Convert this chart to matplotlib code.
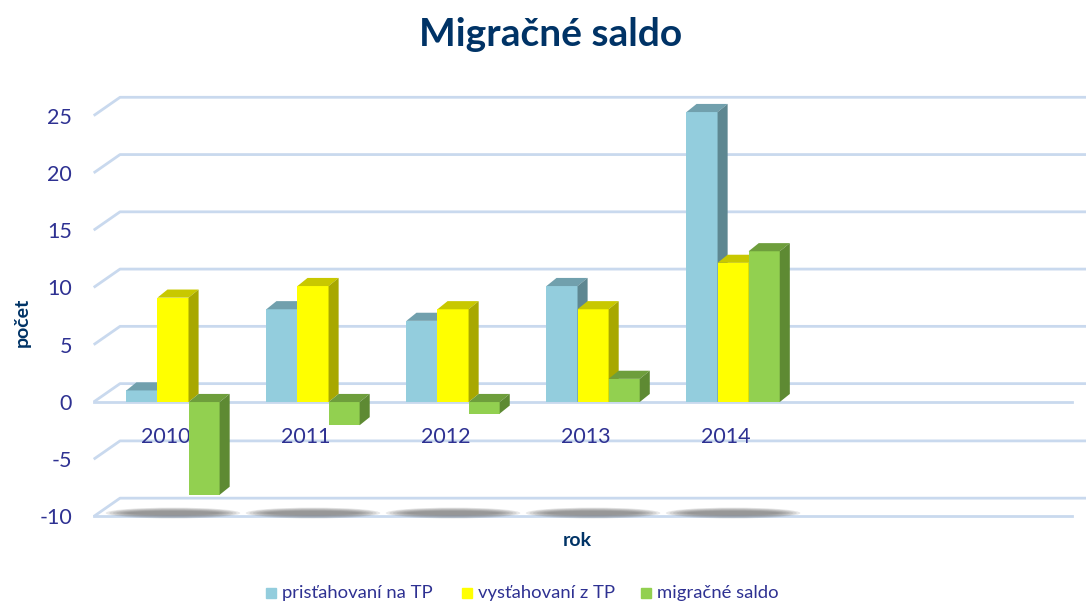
import matplotlib.pyplot as plt
from matplotlib.patches import Polygon, Ellipse, Rectangle

years = ['2010', '2011', '2012', '2013', '2014']
prist = [1, 8, 7, 10, 25]
vyst = [9, 10, 8, 8, 12]
saldo = [-8, -2, -1, 2, 13]

series = [
    ('prisťahovaní na TP', prist, '#93CDDD', '#71A0AD', '#5E8791'),
    ('vysťahovaní z TP', vyst, '#FFFF00', '#C8C800', '#A8A800'),
    ('migračné saldo', saldo, '#92D050', '#6E9E3C', '#5E8A33'),
]
yticks = [-10, -5, 0, 5, 10, 15, 20, 25]

txt = '#2E3192'
navy = '#003366'
grid_c = '#C9D9EE'

plt.rcParams['font.family'] = ['Lato', 'DejaVu Sans']

fig = plt.figure(figsize=(10.86, 6.01), dpi=100)
rect = [93 / 1086, 71 / 601, 993 / 1086, 435 / 601]
ax = fig.add_axes(rect)
x0, x1 = -0.571, 6.52
ax.set_xlim(x0, x1)
ax.set_ylim(-11.18, 26.8)
for s in ax.spines.values():
    s.set_visible(False)
ax.set_xticks([])
ax.set_yticks(yticks)
ax.set_yticklabels([str(t) for t in yticks], color=txt, fontsize=15.5)
ax.tick_params(axis='y', length=0, pad=15)

# bars sit a little behind the front plane -> own axes with slightly larger scale
bx = fig.add_axes(rect)
bx.set_xlim(x0, x1)
bx.set_ylim(-11.03, 26.47)
bx.axis('off')

# wall depth and bar depth (in data units)
wdx, wdy = 0.193, 1.6
bdx, bdy = 0.072, 0.7

# gridlines: side wall diagonal + back wall horizontal
for t in yticks:
    ax.plot([x0 + 0.005, x0 + wdx, x1], [t, t + wdy, t + wdy],
            color=grid_c, lw=2, zorder=1, solid_capstyle='butt')
for t in (0, -10):
    ax.plot([x0 + 0.005, x1 - 0.1], [t, t], color=grid_c, lw=2, zorder=1)

# floor shadows (soft, stacked ellipses)
for i in range(len(years)):
    for k in range(7):
        ax.add_patch(Ellipse((i, -9.7), 0.96 - k * 0.05, 0.95 - k * 0.1,
                             color='#707070', alpha=0.16, lw=0, zorder=1.5))

# category labels
for i, y in enumerate(years):
    ax.text(i - 0.05, -3.05, y, ha='center', va='center', color=txt,
            fontsize=15.5, zorder=2)

w = 0.222
z = 3
for i in range(len(years)):
    for j, (name, vals, fc, tc, sc) in enumerate(series):
        v = vals[i]
        xl = i + (j - 1.5) * w
        xr = xl + w
        lo, hi = min(0, v), max(0, v)
        bx.bar(xl, v, width=w, align='edge', color=fc, zorder=z)
        bx.add_patch(Polygon([(xl, hi), (xl + bdx, hi + bdy), (xr + bdx, hi + bdy), (xr, hi)],
                             closed=True, color=tc, lw=0, zorder=z))
        bx.add_patch(Polygon([(xr, lo), (xr + bdx, lo + bdy), (xr + bdx, hi + bdy), (xr, hi)],
                             closed=True, color=sc, lw=0, zorder=z))
        z += 0.1

fig.text(551 / 1086, 1 - 46 / 601, 'Migračné saldo', ha='center', va='baseline',
         fontsize=28, fontweight='bold', color=navy)
fig.text(22 / 1086, 1 - 322 / 601, 'počet', ha='center', va='center', rotation=90,
         fontsize=14, fontweight='bold', color=navy)
fig.text(577 / 1086, 1 - 541 / 601, 'rok', ha='center', va='center',
         fontsize=14, fontweight='bold', color=navy)

# legend, placed by hand
leg_x = [266, 462, 641]
for (name, _, fc, _, _), lx in zip(series, leg_x):
    fig.patches.append(Rectangle((lx / 1086, 1 - 598 / 601), 10 / 1086, 10 / 601,
                                 transform=fig.transFigure, color=fc))
    fig.text((lx + 16) / 1086, 1 - 593 / 601, name, ha='left', va='center',
             fontsize=13.3, color=txt)

fig.savefig('out.png', dpi=100)
